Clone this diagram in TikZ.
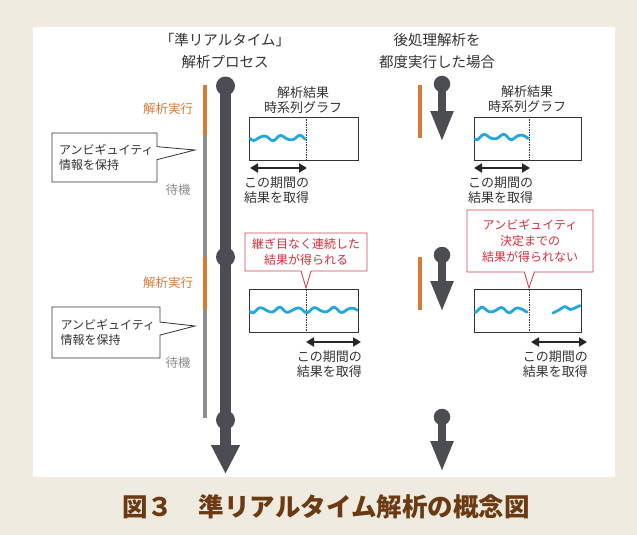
\documentclass[tikz,border=0pt]{standalone}
\usepackage{fontspec}
\newfontfamily\jp{Noto Sans CJK JP}
\usetikzlibrary{arrows.meta,shapes.callouts}
\definecolor{bg}{HTML}{EFEBE1}
\definecolor{mb}{HTML}{4B4D52}
\definecolor{orng}{HTML}{D87A35}
\definecolor{gbar}{HTML}{8E8E92}
\definecolor{txt}{HTML}{333333}
\definecolor{redt}{HTML}{D42E3C}
\definecolor{redb}{HTML}{CF4650}
\definecolor{wave}{HTML}{22A8DC}
\definecolor{brown}{HTML}{6B3A12}
\begin{document}
\begin{tikzpicture}[x=1pt,y=-1pt,
  every node/.style={font=\jp\color{txt}},
  lbl/.style={inner sep=0pt, align=center, font=\jp\fontsize{13}{15}\selectfont\color{txt}},
  ttl/.style={inner sep=0pt, align=center, font=\jp\fontsize{14.5}{22}\selectfont\color{txt}},
  olbl/.style={inner sep=0pt, font=\jp\fontsize{12.5}{15}\selectfont\color{orng}},
  glbl/.style={inner sep=0pt, font=\jp\fontsize{12.5}{15}\selectfont\color{gbar}},
  mainbar/.style={line width=11pt, draw=mb, -{Triangle[length=29pt,width=27pt]}},
  subarrow/.style={line width=8pt, draw=mb, -{Triangle[length=31pt,width=21pt]}},
  knob/.style={circle, fill=mb, inner sep=0pt, minimum size=19pt},
  sknob/.style={circle, fill=mb, inner sep=0pt, minimum size=16.5pt},
  obar/.style={line width=3.5pt, draw=orng},
  gbarl/.style={line width=3.5pt, draw=gbar},
  gbox/.style={draw=txt, line width=1pt, minimum width=109pt, minimum height=43pt, inner sep=0pt},
  dashl/.style={draw=txt, line width=0.6pt, dash pattern=on 1.5pt off 1pt},
  wavel/.style={draw=wave, line width=2.8pt, line cap=round, line join=round},
  dbl/.style={draw=black!85, line width=2.6pt, {Triangle[length=8pt,width=9pt]}-{Triangle[length=8pt,width=9pt]}},
  blkcall/.style={rectangle callout, draw=txt, fill=white, line width=0.8pt, callout pointer width=13pt,
     inner xsep=7pt, text width=91pt, align=left, font=\jp\fontsize{12}{15}\selectfont\color{txt}},
  redcall/.style={rectangle callout, draw=redb, fill=white, line width=0.9pt, callout pointer width=10pt,
     inner sep=0pt, align=center, font=\jp\fontsize{12}{16}\selectfont\color{redt}}
]
\useasboundingbox (0,0) rectangle (637,535);
\fill[bg] (0,0) rectangle (637,535);
\fill[white] (33,27) rectangle (615,477);

% titles
\node[ttl] (t1) at (225,51) {「準リアルタイム」\\解析プロセス};
\node[ttl] (t2) at (437,51) {後処理解析を\\都度実行した場合};

% thin state bars (left)
\coordinate (s0) at (205,85);
\coordinate (s1) at (205,135);
\coordinate (s2) at (205,257);
\coordinate (s3) at (205,310);
\coordinate (s4) at (205,418);
\draw[gbarl] (s1) -- (s2);
\draw[gbarl] (s3) -- (s4);
\draw[obar] (s0) -- (s1);
\draw[obar] (s2) -- (s3);

\node[olbl] (ex1) at (168,109) {解析実行};
\node[glbl] (w1) at (178,190) {待機};
\node[olbl] (ex2) at (168,283) {解析実行};
\node[glbl] (w2) at (178,363) {待機};

% main bar
\coordinate (mtop) at (225.5,86);
\coordinate (mtip) at (225.5,474);
\draw[mainbar] (mtop) -- (mtip);
\node[knob] (k1) at (225.5,86) {};
\node[knob] (k2) at (225.5,257) {};
\node[knob] (k3) at (225.5,420) {};

% left callouts
\node[blkcall, minimum width=105pt, minimum height=49pt, callout absolute pointer={(195,150)}] (amb1) at (104.5,157.5) {アンビギュイティ\\情報を保持};
\node[blkcall, minimum width=108pt, minimum height=51pt, callout absolute pointer={(195,326)}] (amb2) at (106,332.5) {アンビギュイティ\\情報を保持};

% left graph 1
\node[lbl] (gt1) at (303,100) {解析結果\\時系列グラフ};
\node[gbox] (g1) at (303.5,138.5) {};
\coordinate (g1d) at (306,0);
\draw[dashl] (g1.north -| g1d) -- (g1.south -| g1d);
\draw[wavel] plot[domain=0:55,samples=45,smooth] ({250+\x},{138+2.3*sin(20*\x)+0.5*sin(33*\x+30)});
\coordinate (a1l) at (250,168);
\coordinate (a1r) at (307,168);
\draw[dbl] (a1l) -- (a1r);
\node[lbl, anchor=west, align=left] (r1) at (244,190) {この期間の\\結果を取得};

% left red callout
\node[redcall, minimum width=122pt, minimum height=38pt, callout absolute pointer={(306,288)}] (rc1) at (306,252) {継ぎ目なく連続した\\結果が得られる};

% left graph 2
\node[gbox] (g2) at (303.5,311) {};
\coordinate (g2d) at (306,0);
\draw[dashl] (g2.north -| g2d) -- (g2.south -| g2d);
\draw[wavel] plot[domain=0:107,samples=80,smooth] ({250+\x},{310+2.3*sin(20*\x+40)+0.5*sin(33*\x)});
\coordinate (a2l) at (306,342);
\coordinate (a2r) at (361,342);
\draw[dbl] (a2l) -- (a2r);
\node[lbl, anchor=east, align=left] (r2) at (362,364) {この期間の\\結果を取得};

% right arrows
\coordinate (b1) at (420,85);
\coordinate (b1e) at (420,138);
\coordinate (b2) at (420,257);
\coordinate (b2e) at (420,310);
\draw[obar] (b1) -- (b1e);
\draw[obar] (b2) -- (b2e);

\coordinate (p1) at (442,84);
\coordinate (p1e) at (442,142);
\coordinate (p2) at (442,255);
\coordinate (p2e) at (442,312);
\coordinate (p3) at (442,417);
\coordinate (p3e) at (442,472);
\draw[subarrow] (p1) -- (p1e);
\draw[subarrow] (p2) -- (p2e);
\draw[subarrow] (p3) -- (p3e);
\node[sknob] (q1) at (p1) {};
\node[sknob] (q2) at (p2) {};
\node[sknob] (q3) at (p3) {};

% right graph 1
\node[lbl] (gt2) at (527,99) {解析結果\\時系列グラフ};
\node[gbox, minimum width=107pt] (g3) at (527.5,138.5) {};
\coordinate (g3d) at (529,0);
\draw[dashl] (g3.north -| g3d) -- (g3.south -| g3d);
\draw[wavel] plot[domain=0:53,samples=45,smooth] ({475+\x},{137+2.3*sin(20*\x+70)+0.5*sin(33*\x+10)});
\coordinate (a3l) at (474,168);
\coordinate (a3r) at (530,168);
\draw[dbl] (a3l) -- (a3r);
\node[lbl, anchor=west, align=left] (r3) at (468,190) {この期間の\\結果を取得};

% right red callout
\node[redcall, minimum width=126pt, minimum height=62pt, callout absolute pointer={(529,288)}] (rc2) at (530,241) {アンビギュイティ\\決定までの\\結果が得られない};

% right graph 2
\node[gbox, minimum width=107pt] (g4) at (527.5,311) {};
\coordinate (g4d) at (529,0);
\draw[dashl] (g4.north -| g4d) -- (g4.south -| g4d);
\draw[wavel] plot[domain=0:52,samples=45,smooth] ({475+\x},{310+2.3*sin(20*\x+120)+0.5*sin(33*\x+60)});
\draw[wavel] plot[smooth] coordinates {(553,313) (559,310) (565,306.5) (570,309.5) (575,308) (580,305.5)};
\coordinate (a4l) at (531,342);
\coordinate (a4r) at (587,342);
\draw[dbl] (a4l) -- (a4r);
\node[lbl, anchor=east, align=left] (r4) at (588,364) {この期間の\\結果を取得};

% caption
\node[inner sep=0pt, font=\jp\bfseries\fontsize{25.5}{28}\selectfont\color{brown}] (cap) at (326,507) {図３　準リアルタイム解析の概念図};
\end{tikzpicture}
\end{document}
